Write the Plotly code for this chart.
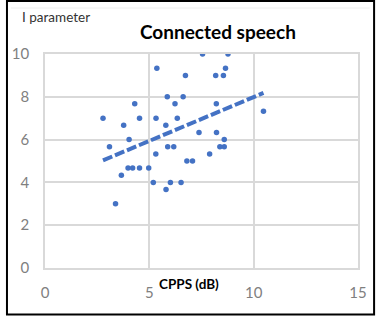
import plotly.graph_objects as go

# Data (CPPS in dB vs I parameter)
cpps = [2.78, 3.09, 3.38, 3.66, 3.77, 3.98, 4.03, 4.20, 4.30, 4.53, 4.53, 4.97,
        5.19, 5.31, 5.32, 5.36, 5.79, 5.80, 5.86, 5.88, 6.01, 6.17, 6.23, 6.34,
        6.52, 6.62, 6.73, 6.80, 7.07, 7.38, 7.55, 7.89, 8.18, 8.21, 8.22, 8.38,
        8.55, 8.59, 8.59, 8.65, 8.77, 10.47]
i_param = [7.0, 5.67, 3.0, 4.33, 6.67, 4.67, 6.0, 4.67, 7.67, 4.67, 7.0, 4.67,
           4.0, 5.33, 7.0, 9.33, 6.67, 3.67, 8.0, 5.67, 4.0, 5.67, 7.67, 7.0,
           4.0, 8.0, 9.0, 5.0, 5.0, 6.33, 10.0, 5.33, 9.0, 7.67, 6.33, 5.67,
           9.0, 6.0, 5.67, 9.33, 10.0, 7.33]

# Linear trend line end points
trend_x = [2.78, 10.47]
trend_y = [5.03, 8.18]

x_ticks = [0, 5, 10, 15]
y_ticks = [0, 2, 4, 6, 8, 10]

BLUE = "#4472C4"
GRID = "#d9d9d9"
FONT = "Lato, Liberation Sans, sans-serif"

fig = go.Figure()
fig.add_trace(go.Scatter(
    x=cpps, y=i_param, mode="markers",
    marker=dict(color=BLUE, size=5.5, line=dict(width=0)),
    showlegend=False, hoverinfo="skip"))
fig.add_trace(go.Scatter(
    x=trend_x, y=trend_y, mode="lines",
    line=dict(color=BLUE, width=4, dash="10px,3px"),
    showlegend=False, hoverinfo="skip"))

W, H = 379, 316
L, R, T, B = 40, 18, 54, 48
pw, ph = W - L - R, H - T - B


def px(xp):
    return (xp - L) / pw


def py(yp):
    return (H - B - yp) / ph


fig.update_layout(
    width=W, height=H,
    margin=dict(l=L, r=R, t=T, b=B),
    paper_bgcolor="white", plot_bgcolor="white",
    font=dict(family=FONT, color="#595959"),
    xaxis=dict(range=[0, 15], tickvals=x_ticks, showgrid=True, gridcolor=GRID,
               gridwidth=1.5, zeroline=False, showline=True, linecolor=GRID,
               linewidth=1.5, mirror=True, ticks="", ticklabelstandoff=10,
               tickfont=dict(size=15, color="#7f7f7f", family=FONT)),
    yaxis=dict(range=[0, 10], tickvals=y_ticks, showgrid=True, gridcolor=GRID,
               gridwidth=1.5, zeroline=False, showline=True, linecolor=GRID,
               linewidth=1.5, mirror=True, ticks="", ticklabelstandoff=11,
               tickfont=dict(size=15, color="#7f7f7f", family=FONT)),
    annotations=[
        dict(text="<b>Connected speech</b>", xref="paper", yref="paper",
             x=px(217.5), y=py(31), xanchor="center", yanchor="middle",
             showarrow=False, font=dict(size=19, color="#000000", family=FONT)),
        dict(text="I parameter", xref="paper", yref="paper",
             x=px(14), y=py(16.5), xanchor="left", yanchor="middle",
             showarrow=False, font=dict(size=13.5, color="#333333", family=FONT)),
        dict(text="<b>CPPS (dB)</b>", xref="paper", yref="paper",
             x=px(188), y=py(283.5), xanchor="center", yanchor="middle",
             showarrow=False, font=dict(size=13.5, color="#000000", family=FONT)),
    ],
    shapes=[
        dict(type="rect", xref="paper", yref="paper",
             x0=px(1), x1=px(377.5), y0=py(314.5), y1=py(1),
             line=dict(color="black", width=2), fillcolor="rgba(0,0,0,0)",
             layer="above"),
        dict(type="line", xref="paper", yref="paper",
             x0=px(5), x1=px(373), y0=py(8), y1=py(8),
             line=dict(color="#eeeeee", width=1)),
    ],
)

fig.write_html("out.html")
